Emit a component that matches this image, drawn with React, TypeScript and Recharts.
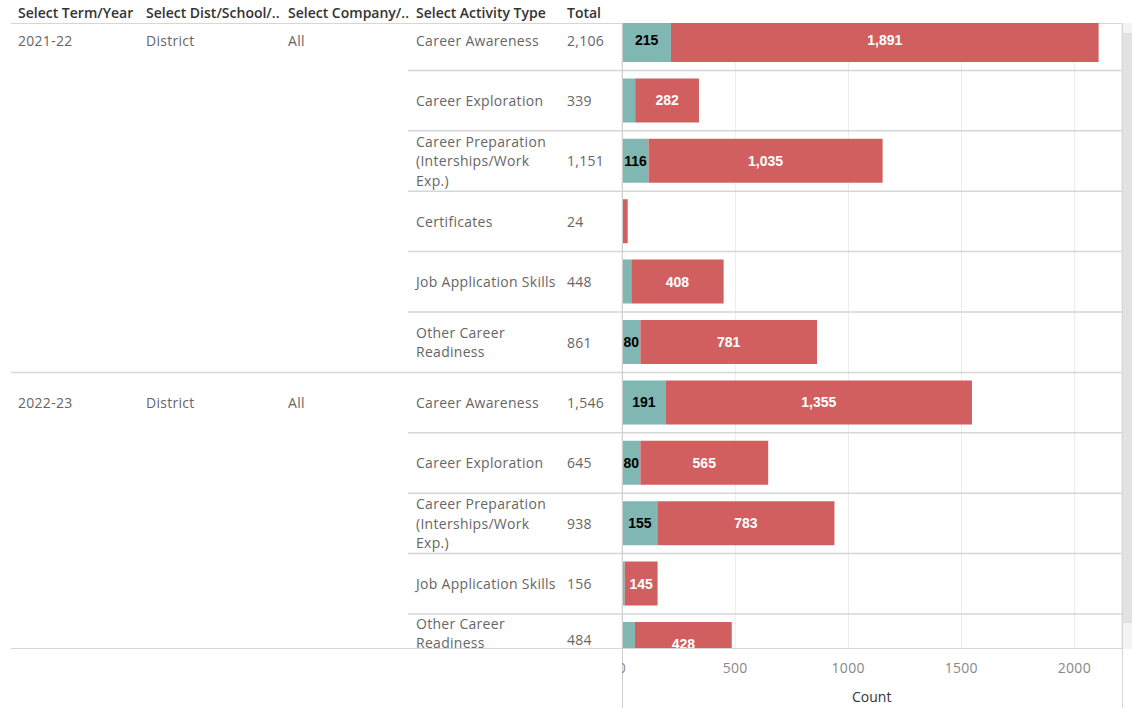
import React from "react";
import { Bar, BarChart, CartesianGrid, LabelList, XAxis, YAxis } from "recharts";

const headers = ["Select Term/Year", "Select Dist/School/..", "Select Company/..", "Select Activity Type", "Total"];

const rowTerms = ["2021-22", "2021-22", "2021-22", "2021-22", "2021-22", "2021-22", "2022-23", "2022-23", "2022-23", "2022-23", "2022-23"];
const rowDists = ["District", "District", "District", "District", "District", "District", "District", "District", "District", "District", "District"];
const rowCompanies = ["All", "All", "All", "All", "All", "All", "All", "All", "All", "All", "All"];
const activityTypes = [
  "Career Awareness",
  "Career Exploration",
  "Career Preparation (Interships/Work Exp.)",
  "Certificates",
  "Job Application Skills",
  "Other Career Readiness",
  "Career Awareness",
  "Career Exploration",
  "Career Preparation (Interships/Work Exp.)",
  "Job Application Skills",
  "Other Career Readiness",
];
const totals = [2106, 339, 1151, 24, 448, 861, 1546, 645, 938, 156, 484];
const tealCounts = [215, 57, 116, 0, 40, 80, 191, 80, 155, 11, 56];
const redCounts = [1891, 282, 1035, 24, 408, 781, 1355, 565, 783, 145, 428];
const xTicks = [0, 500, 1000, 1500, 2000];

// how tableau wrapped the long activity names
const wrapped: Record<string, string[]> = {
  "Career Preparation (Interships/Work Exp.)": ["Career Preparation", "(Interships/Work", "Exp.)"],
  "Other Career Readiness": ["Other Career", "Readiness"],
};

const rows = activityTypes.map((activity, i) => ({
  key: `${rowTerms[i]}|${activity}`,
  term: rowTerms[i],
  dist: rowDists[i],
  company: rowCompanies[i],
  activity,
  total: totals[i],
  teal: tealCounts[i],
  red: redCounts[i],
}));

const ROW_H = 60.4;
const PLOT_LEFT = 622.3;
const PLOT_W = 499.4;
const X_MAX = 2208;
const CLIP_TOP = 23.3;
const CLIP_BOTTOM = 648.7;
const FIRST_ROW_TOP = 9.9;
const TEAL = "#80b7b2";
const RED = "#d25f5f";
const font = "'Open Sans', 'Noto Sans', sans-serif";
const colX = [18, 146, 288, 416, 567];

const fmt = (v: number) => v.toLocaleString("en-US");

function RowTick(props: any) {
  const { y, index } = props;
  const r = rows[index];
  if (!r) return null;
  const groupStart = index === 0 || rows[index - 1].term !== r.term;
  const groupEnd = index === rows.length - 1 || rows[index + 1].term !== r.term;
  const lines = wrapped[r.activity] ?? [r.activity];
  const lh = 19.5;
  // rows cut by the scroll edge get their text pulled up into view, like tableau does
  const visBottom = CLIP_BOTTOM - FIRST_ROW_TOP;
  const lastLine = Math.min(y + ((lines.length - 1) * lh) / 2, visBottom - 6);
  const y0 = lastLine - (lines.length - 1) * lh;
  const ty = Math.min(y, visBottom - 9);
  const sepY = y + ROW_H / 2;
  return (
    <g fontFamily={font} fontSize={14} letterSpacing={0.3} fill="#666">
      {groupStart && (
        <>
          <text x={colX[0]} y={ty} dominantBaseline="central">{r.term}</text>
          <text x={colX[1]} y={ty} dominantBaseline="central">{r.dist}</text>
          <text x={colX[2]} y={ty} dominantBaseline="central">{r.company}</text>
        </>
      )}
      {lines.map((ln, k) => (
        <text key={k} x={colX[3]} y={y0 + k * lh} dominantBaseline="central">{ln}</text>
      ))}
      <text x={colX[4]} y={ty} dominantBaseline="central">{fmt(r.total)}</text>
      <line
        x1={groupEnd ? 11 : 408}
        x2={PLOT_LEFT + PLOT_W}
        y1={sepY}
        y2={sepY}
        stroke="#d6d6d6"
        strokeWidth={1.5}
      />
    </g>
  );
}

const makeLabel = (color: string) => (p: any) => {
  const { x, y, width, height, value } = p;
  if (!value || width < 15) return null;
  return (
    <text
      x={x + width / 2}
      y={y + height / 2}
      textAnchor="middle"
      dominantBaseline="central"
      fill={color}
      fontFamily="'Liberation Sans', Arial, sans-serif"
      fontWeight="bold"
      fontSize={14}
    >
      {fmt(Number(value))}
    </text>
  );
};

function AxisTick(props: any) {
  const { x, y, payload } = props;
  return (
    <text x={x} y={y + 23} textAnchor="middle" fill="#888" fontFamily={font} fontSize={14} letterSpacing={0.3}>
      {payload.value}
    </text>
  );
}

export default function App() {
  const chartH = rows.length * ROW_H;
  return (
    <div
      style={{
        position: "absolute",
        left: 0,
        top: 0,
        width: 1132,
        height: 708,
        background: "#fff",
        overflow: "hidden",
        fontFamily: font,
      }}
    >
      {headers.map((h, i) => (
        <div
          key={h}
          style={{
            position: "absolute",
            left: colX[i],
            top: 3,
            fontSize: 14,
            fontWeight: 600,
            color: "#333",
            whiteSpace: "nowrap",
            lineHeight: "20px",
          }}
        >
          {h}
        </div>
      ))}
      <div style={{ position: "absolute", left: 11, top: CLIP_TOP - 0.5, width: PLOT_LEFT + PLOT_W - 11, height: 0, borderTop: "1.5px solid #d6d6d6" }} />

      <div style={{ position: "absolute", left: 0, top: CLIP_TOP, width: 1132, height: CLIP_BOTTOM - CLIP_TOP, overflow: "hidden" }}>
        <div style={{ position: "absolute", left: 0, top: FIRST_ROW_TOP - CLIP_TOP }}>
          <BarChart
            layout="vertical"
            width={PLOT_LEFT + PLOT_W}
            height={chartH}
            data={rows}
            margin={{ top: 0, right: 0, bottom: 0, left: 0 }}
            barCategoryGap={8}
          >
            <CartesianGrid horizontal={false} stroke="#ececec" />
            <XAxis type="number" domain={[0, X_MAX]} ticks={xTicks} hide allowDataOverflow />
            <YAxis
              type="category"
              dataKey="key"
              width={PLOT_LEFT}
              tick={<RowTick />}
              tickLine={false}
              axisLine={{ stroke: "#cfcfcf" }}
              interval={0}
            />
            <Bar dataKey="teal" stackId="a" fill={TEAL} isAnimationActive={false}>
              <LabelList dataKey="teal" content={makeLabel("#000")} />
            </Bar>
            <Bar dataKey="red" stackId="a" fill={RED} isAnimationActive={false}>
              <LabelList dataKey="red" content={makeLabel("#fff")} />
            </Bar>
          </BarChart>
        </div>
      </div>

      <div style={{ position: "absolute", left: 11, top: CLIP_BOTTOM - 0.5, width: PLOT_LEFT + PLOT_W - 11, height: 0, borderTop: "1.5px solid #d6d6d6" }} />
      <div
        style={{
          position: "absolute",
          left: PLOT_LEFT - 0.5,
          top: CLIP_TOP,
          width: PLOT_W,
          height: 708 - CLIP_TOP,
          borderLeft: "1px solid #cfcfcf",
          borderRight: "1px solid #d6d6d6",
          pointerEvents: "none",
        }}
      />
      <div style={{ position: "absolute", left: PLOT_LEFT, top: CLIP_BOTTOM, width: PLOT_W, height: 708 - CLIP_BOTTOM, overflow: "hidden" }}>
        <BarChart
          layout="vertical"
          width={PLOT_W}
          height={708 - CLIP_BOTTOM}
          data={rows}
          margin={{ top: 0, right: 0, bottom: 0, left: 0 }}
        >
          <YAxis type="category" dataKey="key" hide />
          <XAxis
            type="number"
            domain={[0, X_MAX]}
            ticks={xTicks}
            allowDataOverflow
            height={708 - CLIP_BOTTOM - 1}
            axisLine={false}
            tickLine={false}
            tickSize={0}
            tickMargin={0}
            tick={<AxisTick />}
            interval={0}
            label={{ value: "Count", position: "insideBottom", offset: 6, fill: "#333", fontSize: 14, fontFamily: font }}
          />
          <Bar dataKey="total" fill="none" isAnimationActive={false} />
        </BarChart>
      </div>

      <div style={{ position: "absolute", left: 1123, top: CLIP_TOP, width: 9, height: CLIP_BOTTOM - CLIP_TOP, background: "#f3f3f3" }} />
      <div style={{ position: "absolute", left: 1123, top: 33, width: 9, height: 590, background: "#e2e2e2" }} />
    </div>
  );
}
